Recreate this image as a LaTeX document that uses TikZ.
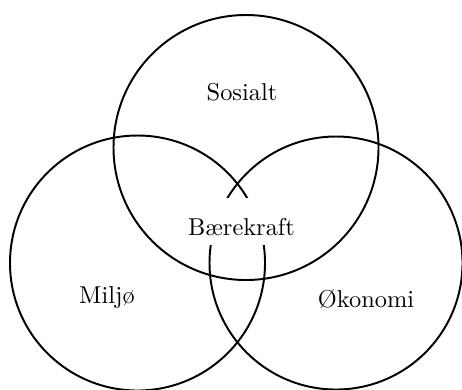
\documentclass[tikz,border=0pt]{standalone}
\begin{document}
\begin{tikzpicture}[x=0.41pt,y=-0.41pt,
  ring/.style={draw=black,line width=0.8pt},
  lbl/.style={inner sep=0pt,anchor=base}]
\useasboundingbox (0,0) rectangle (462,389);
\clip (0,0) rectangle (462,389);
\coordinate (cs) at (246,147.5);
\coordinate (cm) at (137.5,263);
\coordinate (co) at (336,263);
\draw[ring] (cs) circle [radius=132.5];
\draw[ring] (cm) circle [radius=127.5];
\draw[ring] (co) circle [radius=126.5];
\node[lbl] (sos) at (242,100) {Sosialt};
\node[lbl] (mil) at (107,303) {Miljø};
\node[lbl] (oko) at (366,307) {Økonomi};
\node[lbl,fill=white,text height=15.2pt,text depth=4.1pt] (bk) at (241.5,235) {Bærekraft};
\end{tikzpicture}
\end{document}
